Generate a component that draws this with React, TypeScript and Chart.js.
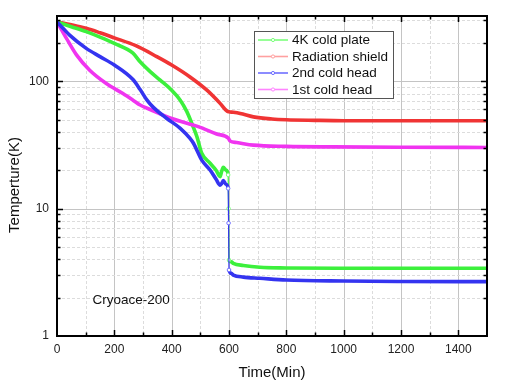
import React, { useEffect, useRef } from "react";
import { Chart, registerables } from "chart.js";

Chart.register(...registerables);

// ---- data ----
const plateTime = [0, 50, 102, 150, 200, 265, 290, 325, 360, 400, 430, 453, 470, 488, 505, 534, 555, 569, 574, 580, 590, 597, 598.5, 600, 608, 615, 650, 708, 800, 1000, 1200, 1500];
const plateTemp = [292, 268, 245, 222, 198, 166, 142, 119, 102, 85, 71, 57.7, 46.8, 36.7, 27.2, 22.7, 20, 17.8, 19.5, 21.1, 20, 18.4, 10, 3.95, 3.82, 3.72, 3.58, 3.46, 3.42, 3.4, 3.4, 3.4];

const shieldTime = [0, 50, 102, 150, 200, 275, 348, 400, 464, 523, 569, 594, 600, 615, 639, 685, 750, 800, 900, 1000, 1200, 1500];
const shieldTemp = [292, 277, 260, 240, 219, 190, 156, 134, 108, 85, 67, 58, 57.5, 57, 55.8, 52.5, 50.5, 49.8, 49.3, 49, 49, 49];

const head2Time = [0, 20, 44, 102, 150, 200, 265, 290, 314, 337, 383, 430, 464, 476, 505, 534, 555, 569, 575, 580, 590, 597, 598.5, 600, 608, 615, 650, 708, 800, 1000, 1200, 1500];
const head2Temp = [292, 262, 230, 181, 156, 134, 103, 86, 71, 62, 51, 42.7, 35.6, 32.6, 24, 20.1, 17, 15.3, 15.8, 16.6, 15.5, 14.4, 7.7, 3.3, 3.1, 3.01, 2.9, 2.84, 2.75, 2.7, 2.68, 2.67];

const head1Time = [0, 15, 33, 68, 114, 172, 230, 265, 290, 325, 400, 493, 557, 598, 603, 627, 685, 800, 963, 1200, 1500];
const head1Temp = [292, 255, 217, 161, 122, 96, 80, 71, 65, 60, 51, 44, 38.5, 35.6, 34, 33, 31.5, 30.8, 30.5, 30.3, 30.2];

const seriesLabels = ["4K cold plate", "Radiation shield", "2nd cold head", "1st cold head"];
const seriesColors = ["#3cf03c", "#f03434", "#3434f0", "#f034f0"];
const legendColors = ["#7cff7c", "#ffa0a0", "#7070ff", "#ff84ff"];
const seriesOrder = [2, 3, 0, 1];

const xMin = 0;
const xMax = 1500;
const xStep = 100;
const xLabelStep = 200;
const yMin = 1;
const yMax = 325;
const yTickValues = [1, 2, 3, 4, 5, 6, 7, 8, 9, 10, 20, 30, 40, 50, 60, 70, 80, 90, 100, 200, 300];
const yLabelValues = [1, 10, 100];

const xTitle = "Time(Min)";
const yTitle = "Temperture(K)";
const annotation = "Cryoace-200";

const FONT = "'Liberation Sans', Arial, Helvetica, sans-serif";

function pts(t: number[], v: number[]) {
  return t.map((x, i) => ({ x, y: v[i] }));
}

export default function App() {
  const ref = useRef<HTMLCanvasElement | null>(null);

  useEffect(() => {
    const canvas = ref.current;
    if (!canvas) return;

    const thin = (ctx: any) =>
      Math.abs(ctx.p1.parsed.x - ctx.p0.parsed.x) < 2.5 ? 1.2 : 3.6;

    const pointR = (ctx: any) => {
      const d = ctx.dataset.data as { x: number }[];
      const i = ctx.dataIndex;
      const a = i > 0 ? Math.abs(d[i].x - d[i - 1].x) : 99;
      const b = i < d.length - 1 ? Math.abs(d[i + 1].x - d[i].x) : 99;
      return a < 2.5 || b < 2.5 ? 1.8 : 0;
    };

    const series = [
      pts(plateTime, plateTemp),
      pts(shieldTime, shieldTemp),
      pts(head2Time, head2Temp),
      pts(head1Time, head1Temp),
    ];

    const decor = {
      id: "decor",
      beforeDatasetsDraw(chart: any) {
        const { ctx, chartArea: a, scales } = chart;
        const xs = scales.x;
        const ys = scales.y;
        ctx.save();
        ctx.lineWidth = 1;
        for (let v = xMin + xStep; v < xMax; v += xStep) {
          const px = Math.round(xs.getPixelForValue(v)) + 0.5;
          const major = v % xLabelStep === 0;
          ctx.strokeStyle = major ? "#c4c4c4" : "#dcdcdc";
          ctx.setLineDash(major ? [] : [3, 2]);
          ctx.beginPath();
          ctx.moveTo(px, a.top);
          ctx.lineTo(px, a.bottom);
          ctx.stroke();
        }
        yTickValues.forEach((v) => {
          if (v <= yMin || v >= yMax) return;
          const py = Math.round(ys.getPixelForValue(v)) + 0.5;
          const major = yLabelValues.includes(v);
          ctx.strokeStyle = major ? "#c4c4c4" : "#dcdcdc";
          ctx.setLineDash(major ? [] : [3, 2]);
          ctx.beginPath();
          ctx.moveTo(a.left, py);
          ctx.lineTo(a.right, py);
          ctx.stroke();
        });
        ctx.restore();
      },
      afterDatasetsDraw(chart: any) {
        const { ctx, chartArea: a, scales } = chart;
        const xs = scales.x;
        const ys = scales.y;
        ctx.save();
        ctx.setLineDash([]);
        ctx.strokeStyle = "#000";
        ctx.lineWidth = 1.5;
        for (let v = xMin + xStep; v < xMax; v += xStep) {
          const px = Math.round(xs.getPixelForValue(v)) + 0.5;
          const len = v % xLabelStep === 0 ? 6 : 3.5;
          ctx.beginPath();
          ctx.moveTo(px, a.bottom);
          ctx.lineTo(px, a.bottom - len);
          ctx.moveTo(px, a.top);
          ctx.lineTo(px, a.top + len);
          ctx.stroke();
        }
        yTickValues.forEach((v) => {
          if (v <= yMin || v >= yMax) return;
          const py = Math.round(ys.getPixelForValue(v)) + 0.5;
          const len = yLabelValues.includes(v) ? 6 : 3.5;
          ctx.beginPath();
          ctx.moveTo(a.left, py);
          ctx.lineTo(a.left + len, py);
          ctx.moveTo(a.right, py);
          ctx.lineTo(a.right - len, py);
          ctx.stroke();
        });
        ctx.lineWidth = 2;
        ctx.strokeRect(a.left, a.top, a.right - a.left, a.bottom - a.top);

        // legend
        const lx = 254.5, ly = 31.5, lw = 139, lh = 67;
        ctx.fillStyle = "#fff";
        ctx.fillRect(lx, ly, lw, lh);
        ctx.lineWidth = 1;
        ctx.strokeStyle = "#555";
        ctx.strokeRect(lx, ly, lw, lh);
        ctx.font = `13.5px ${FONT}`;
        ctx.textBaseline = "middle";
        ctx.textAlign = "left";
        seriesLabels.forEach((lab, i) => {
          const yy = 40 + i * 16.5;
          ctx.strokeStyle = legendColors[i];
          ctx.lineWidth = 1.6;
          ctx.beginPath();
          ctx.moveTo(258, yy);
          ctx.lineTo(288, yy);
          ctx.stroke();
          ctx.beginPath();
          ctx.arc(273, yy, 1.6, 0, Math.PI * 2);
          ctx.fillStyle = "#fff";
          ctx.fill();
          ctx.lineWidth = 1;
          ctx.stroke();
          ctx.fillStyle = "#111";
          ctx.fillText(lab, 292, yy + 0.5);
        });

        ctx.fillStyle = "#111";
        ctx.font = `13.5px ${FONT}`;
        ctx.fillText(annotation, 92.5, 300.5);

        ctx.font = `15px ${FONT}`;
        ctx.textAlign = "center";
        ctx.fillText(xTitle, (a.left + a.right) / 2, 372.5);
        ctx.save();
        ctx.translate(14.5, 185);
        ctx.rotate(-Math.PI / 2);
        ctx.fillText(yTitle, 0, 0);
        ctx.restore();
        ctx.restore();
      },
    };

    const chart = new Chart(canvas, {
      type: "line",
      data: {
        datasets: series.map((data, i) => ({
          label: seriesLabels[i],
          data,
          order: seriesOrder[i],
          borderColor: seriesColors[i],
          backgroundColor: seriesColors[i],
          borderWidth: 3.6,
          cubicInterpolationMode: "monotone" as const,
          pointRadius: pointR,
          pointBorderWidth: 1,
          pointBackgroundColor: "#ffffff",
          pointBorderColor: legendColors[i],
          segment: { borderWidth: thin },
          fill: false,
        })),
      },
      options: {
        animation: false,
        responsive: false,
        devicePixelRatio: 1,
        parsing: false as any,
        layout: { padding: { top: 16, right: 18, left: 0, bottom: 0 } },
        plugins: {
          legend: { display: false },
          tooltip: { enabled: false },
        },
        scales: {
          x: {
            type: "linear",
            min: xMin,
            max: xMax,
            grid: { display: false, drawTicks: false },
            border: { display: false },
            afterFit: (s: any) => {
              s.height = 47;
            },
            ticks: {
              stepSize: xStep,
              autoSkip: false,
              maxRotation: 0,
              padding: 6,
              color: "#222",
              font: { family: FONT, size: 12 },
              callback: (v: any) => (Number(v) % xLabelStep === 0 && Number(v) < xMax ? String(v) : ""),
            },
          },
          y: {
            type: "logarithmic",
            min: yMin,
            max: yMax,
            grid: { display: false, drawTicks: false },
            border: { display: false },
            afterFit: (s: any) => {
              s.width = 57;
            },
            afterBuildTicks: (s: any) => {
              s.ticks = yTickValues.map((v) => ({ value: v }));
            },
            ticks: {
              autoSkip: false,
              padding: 8,
              color: "#222",
              font: { family: FONT, size: 12 },
              callback: (v: any) => (yLabelValues.includes(Number(v)) ? String(v) : ""),
            },
          },
        },
      },
      plugins: [decor],
    } as any);

    return () => chart.destroy();
  }, []);

  return (
    <div style={{ position: "fixed", left: 0, top: 0, width: 505, height: 383, background: "#fff" }}>
      <canvas ref={ref} width={505} height={383} style={{ width: 505, height: 383, display: "block" }} />
    </div>
  );
}
